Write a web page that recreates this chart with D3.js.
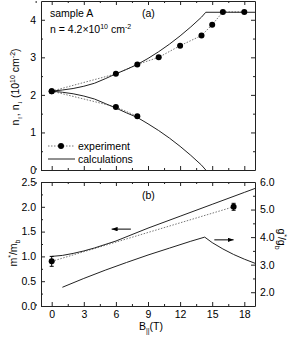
<!DOCTYPE html>
<html>
<head>
<meta charset="utf-8">
<script src="https://cdn.jsdelivr.net/npm/d3@7"></script>
<style>
body{margin:0;background:#fff}
text{font-family:"Liberation Sans",Arial,sans-serif;fill:#000}
</style>
</head>
<body>
<svg id="chart" width="292" height="339"></svg>
<script>
// ---- (a) spin subband densities ----
const nExpB = [0, 6, 8, 10, 12, 14, 15, 16, 18];
const nUpExp = [2.1, 2.56, 2.81, 3.0, 3.31, 3.58, 3.87, 4.21, 4.21];
const nDownExpB = [0, 6, 8];
const nDownExp = [2.1, 1.68, 1.43];

const nUpCalcB = [0, 1, 2, 3, 4, 5, 6, 7, 8, 9, 10, 11, 12, 13, 14, 14.4, 19];
const nUpCalc = [2.1, 2.13, 2.17, 2.23, 2.31, 2.43, 2.56, 2.68, 2.81, 2.97, 3.15, 3.35, 3.57, 3.81, 4.07, 4.2, 4.2];
const nDownCalcB = [0, 1, 2, 3, 4, 5, 6, 7, 8, 9, 10, 11, 12, 13, 14, 14.4];
const nDownCalc = [2.1, 2.07, 2.03, 1.97, 1.89, 1.77, 1.65, 1.52, 1.4, 1.23, 1.05, 0.85, 0.63, 0.39, 0.13, 0];

// ---- (b) effective mass and g-factor ----
const mCalcB = [0, 1, 2, 3, 4, 6, 9, 12, 15, 18, 19];
const mCalc = [1.0, 1.02, 1.06, 1.11, 1.17, 1.31, 1.57, 1.81, 2.05, 2.29, 2.37];
const mExpB = [0, 17];
const mExp = [0.9, 2.0];
const mExpErr = [0.1, 0.07];
const gCalcB = [1, 3, 5, 7, 9, 11, 13, 14.3, 15, 16, 17, 18, 19];
const gCalc = [2.18, 2.5, 2.8, 3.08, 3.35, 3.6, 3.85, 4.0, 3.8, 3.57, 3.37, 3.2, 3.05];

const bMajor = [0, 3, 6, 9, 12, 15, 18];
const bMinor = [-1.5, 1.5, 4.5, 7.5, 10.5, 13.5, 16.5];

const svg = d3.select('#chart');

const x = d3.scaleLinear().domain([-1, 19]).range([41, 255]);
const yN = d3.scaleLinear().domain([0, 4.5]).range([170, 1]);
const yM = d3.scaleLinear().domain([0, 2.5]).range([306, 182]);
const yG = d3.scaleLinear().domain([1.5, 6]).range([306, 182]);

// axis helper: major ticks (inward) + minor ticks
function axis(gen, scale, pos, major, minor, fmt){
  const g = svg.append('g').attr('transform', pos)
    .call(gen(scale).tickValues(major).tickSizeInner(-4).tickSizeOuter(0).tickPadding(5)
      .tickFormat(fmt ? fmt : ''));
  svg.append('g').attr('transform', pos)
    .call(gen(scale).tickValues(minor).tickSizeInner(-2).tickSizeOuter(0).tickFormat(''))
    .select('.domain').remove();
  g.selectAll('text').attr('font-size', 10.5).attr('font-family', '"Liberation Sans",Arial,sans-serif');
  svg.selectAll('.tick line, .domain').attr('stroke', '#222');
  return g;
}

// panel (a) frame
axis(d3.axisBottom, x, 'translate(0,170)', bMajor, bMinor, null);
axis(d3.axisTop, x, 'translate(0,1)', bMajor, bMinor, null);
axis(d3.axisLeft, yN, 'translate(41,0)', [0, 1, 2, 3, 4], [0.5, 1.5, 2.5, 3.5], d3.format('d'));
axis(d3.axisRight, yN, 'translate(255,0)', [0, 1, 2, 3, 4], [0.5, 1.5, 2.5, 3.5], null);

// panel (b) frame
axis(d3.axisBottom, x, 'translate(0,306)', bMajor, bMinor, d3.format('d'));
axis(d3.axisTop, x, 'translate(0,182)', bMajor, bMinor, null);
axis(d3.axisLeft, yM, 'translate(41,0)', [0, 0.5, 1, 1.5, 2, 2.5], [0.25, 0.75, 1.25, 1.75, 2.25], d3.format('.1f'));
axis(d3.axisRight, yG, 'translate(255,0)', [2, 3, 4, 5, 6], [1.5, 2.5, 3.5, 4.5, 5.5], d3.format('.1f'));

const solid = (sel) => sel.attr('fill', 'none').attr('stroke', '#222').attr('stroke-width', 1);
const dotted = (sel) => sel.attr('fill', 'none').attr('stroke', '#777').attr('stroke-width', 1).attr('stroke-dasharray', '1.5,1.5');

function curve(bs, vs, ys){
  return d3.line().x(d => x(d[0])).y(d => ys(d[1]))(bs.map((b, i) => [b, vs[i]]));
}

// (a) curves
svg.append('path').attr('d', curve(nExpB, nUpExp, yN)).call(dotted);
svg.append('path').attr('d', curve(nDownExpB, nDownExp, yN)).call(dotted);
svg.append('path').attr('d', curve(nUpCalcB, nUpCalc, yN)).call(solid);
svg.append('path').attr('d', curve(nDownCalcB, nDownCalc, yN)).call(solid);

svg.append('g').selectAll('circle')
  .data(nExpB.map((b, i) => [b, nUpExp[i]]).concat(nDownExpB.map((b, i) => [b, nDownExp[i]])))
  .enter().append('circle')
  .attr('cx', d => x(d[0])).attr('cy', d => yN(d[1])).attr('r', 3).attr('fill', '#000');

// (b) curves
svg.append('path').attr('d', curve(mExpB, mExp, yM)).call(dotted);
svg.append('path').attr('d', curve(mCalcB, mCalc, yM)).call(solid);
svg.append('path').attr('d', curve(gCalcB, gCalc, yG)).call(solid);

mExpB.forEach((b, i) => {
  svg.append('line').attr('x1', x(b)).attr('x2', x(b))
    .attr('y1', yM(mExp[i] - mExpErr[i])).attr('y2', yM(mExp[i] + mExpErr[i]))
    .attr('stroke', '#000');
  [mExp[i] - mExpErr[i], mExp[i] + mExpErr[i]].forEach(v => {
    svg.append('line').attr('x1', x(b) - 2).attr('x2', x(b) + 2)
      .attr('y1', yM(v)).attr('y2', yM(v)).attr('stroke', '#000');
  });
  svg.append('circle').attr('cx', x(b)).attr('cy', yM(mExp[i])).attr('r', 3).attr('fill', '#000');
});

// arrows
svg.append('defs').append('marker').attr('id', 'ah')
  .attr('viewBox', '0 0 8 6').attr('refX', 8).attr('refY', 3)
  .attr('markerWidth', 6).attr('markerHeight', 4.5).attr('orient', 'auto')
  .append('path').attr('d', 'M0,0L8,3L0,6Z').attr('fill', '#000');
svg.append('line').attr('x1', x(7.4)).attr('x2', x(5.6)).attr('y1', yM(1.55)).attr('y2', yM(1.55))
  .attr('stroke', '#000').attr('marker-end', 'url(#ah)');
svg.append('line').attr('x1', x(15.2)).attr('x2', x(17.0)).attr('y1', yG(3.9)).attr('y2', yG(3.9))
  .attr('stroke', '#000').attr('marker-end', 'url(#ah)');

// text
const fs = 10.5;
svg.append('text').attr('x', 50).attr('y', 17).attr('font-size', fs).text('sample A');
const nt = svg.append('text').attr('x', 50).attr('y', 33).attr('font-size', fs);
nt.append('tspan').text('n = 4.2×10');
nt.append('tspan').attr('dy', -4).attr('font-size', 7).text('10');
nt.append('tspan').attr('dy', 4).text(' cm');
nt.append('tspan').attr('dy', -4).attr('font-size', 7).text('-2');
svg.append('text').attr('x', 142).attr('y', 17).attr('font-size', fs).text('(a)');
svg.append('text').attr('x', 142).attr('y', 199).attr('font-size', fs).text('(b)');

// legend
svg.append('line').attr('x1', 48).attr('x2', 75).attr('y1', 146).attr('y2', 146).call(dotted);
svg.append('circle').attr('cx', 61).attr('cy', 146).attr('r', 3).attr('fill', '#000');
svg.append('text').attr('x', 78).attr('y', 150).attr('font-size', fs).text('experiment');
svg.append('line').attr('x1', 48).attr('x2', 75).attr('y1', 159).attr('y2', 159).call(solid);
svg.append('text').attr('x', 78).attr('y', 163).attr('font-size', fs).text('calculations');

// axis titles
const ly = svg.append('text').attr('transform', 'translate(19,87) rotate(-90)')
  .attr('text-anchor', 'middle').attr('font-size', fs);
ly.append('tspan').text('n');
ly.append('tspan').attr('dy', 3).attr('font-size', 7).text('↑');
ly.append('tspan').attr('dy', -3).text(', n');
ly.append('tspan').attr('dy', 3).attr('font-size', 7).text('↓');
ly.append('tspan').attr('dy', -3).text(' (10');
ly.append('tspan').attr('dy', -4).attr('font-size', 7).text('10');
ly.append('tspan').attr('dy', 4).text(' cm');
ly.append('tspan').attr('dy', -4).attr('font-size', 7).text('-2');
ly.append('tspan').attr('dy', 4).text(')');

const lm = svg.append('text').attr('transform', 'translate(17,253) rotate(-90)')
  .attr('text-anchor', 'middle').attr('font-size', fs);
lm.append('tspan').text('m');
lm.append('tspan').attr('dy', -4).attr('font-size', 7).text('*');
lm.append('tspan').attr('dy', 4).text('/m');
lm.append('tspan').attr('dy', 3).attr('font-size', 7).text('b');

const lg = svg.append('text').attr('transform', 'translate(278,239) rotate(90)')
  .attr('text-anchor', 'middle').attr('font-size', fs);
lg.append('tspan').text('g');
lg.append('tspan').attr('dy', -4).attr('font-size', 7).text('*');
lg.append('tspan').attr('dy', 4).text('/g');
lg.append('tspan').attr('dy', 3).attr('font-size', 7).text('b');

const lb = svg.append('text').attr('x', 151).attr('y', 330).attr('text-anchor', 'middle').attr('font-size', fs);
lb.append('tspan').text('B');
lb.append('tspan').attr('dy', 3).attr('font-size', 7).text('||');
lb.append('tspan').attr('dy', -3).text('(T)');
</script>
</body>
</html>
